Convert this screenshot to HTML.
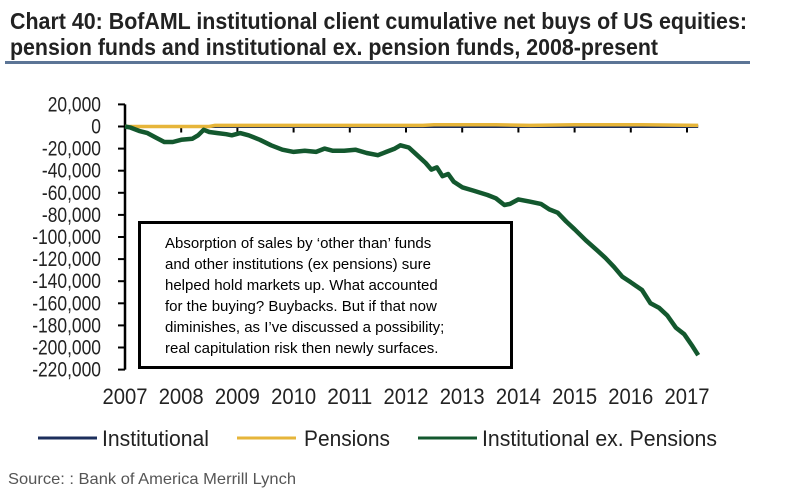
<!DOCTYPE html>
<html><head><meta charset="utf-8"><style>
body{margin:0;background:#fff;width:800px;height:499px;overflow:hidden}
svg{display:block}
.n{font-family:"Liberation Sans Narrow","Liberation Sans",sans-serif}
</style></head><body>
<svg id="c" width="800" height="499">
<text class="n" x="10" y="29" font-size="23" font-weight="bold" fill="#222" textLength="737" lengthAdjust="spacingAndGlyphs">Chart 40: BofAML institutional client cumulative net buys of US equities:</text>
<text class="n" x="10" y="55" font-size="23" font-weight="bold" fill="#222" textLength="648" lengthAdjust="spacingAndGlyphs">pension funds and institutional  ex. pension funds, 2008-present</text>
<rect x="5" y="61" width="745" height="3" fill="#5c7596"/>
<g id="yaxis"></g>
<g id="xaxis"></g>
<g id="series"></g>
<rect x="139.5" y="222.5" width="372" height="145" fill="#fff" stroke="#000" stroke-width="3"/>
<g font-family="Liberation Sans, sans-serif" font-size="15" fill="#000">
<text x="165" y="248">Absorption of sales by ‘other than’ funds</text>
<text x="165" y="269">and other institutions (ex pensions) sure</text>
<text x="165" y="290">helped hold markets up. What accounted</text>
<text x="165" y="311">for the buying? Buybacks. But if that now</text>
<text x="165" y="332">diminishes, as I’ve discussed a possibility;</text>
<text x="165" y="353">real capitulation risk then newly surfaces.</text>
</g>
<g class="n" font-size="22" fill="#222">
<line x1="38" y1="438" x2="97" y2="438" stroke="#1d2f5c" stroke-width="3"/>
<text x="102" y="446" textLength="107" lengthAdjust="spacingAndGlyphs">Institutional</text>
<line x1="237" y1="438" x2="296" y2="438" stroke="#e6b53a" stroke-width="3"/>
<text x="304" y="446" textLength="86" lengthAdjust="spacingAndGlyphs">Pensions</text>
<line x1="418" y1="438" x2="477" y2="438" stroke="#13582e" stroke-width="3"/>
<text x="482" y="446" textLength="235" lengthAdjust="spacingAndGlyphs">Institutional ex. Pensions</text>
</g>
<text class="n" x="8" y="484" font-size="16" fill="#555" textLength="288" lengthAdjust="spacingAndGlyphs">Source: : Bank of America Merrill Lynch</text>
</svg>
<script>
const yTicks=[20000,0,-20000,-40000,-60000,-80000,-100000,-120000,-140000,-160000,-180000,-200000,-220000];
const xYears=[2007,2008,2009,2010,2011,2012,2013,2014,2015,2016,2017];
const exDates=[2007.0,2007.1,2007.25,2007.4,2007.55,2007.7,2007.85,2008.0,2008.2,2008.3,2008.4,2008.5,2008.65,2008.8,2008.9,2009.05,2009.2,2009.4,2009.6,2009.8,2010.0,2010.2,2010.4,2010.55,2010.7,2010.9,2011.1,2011.3,2011.5,2011.65,2011.8,2011.9,2012.05,2012.2,2012.35,2012.45,2012.55,2012.65,2012.75,2012.85,2013.0,2013.2,2013.45,2013.6,2013.75,2013.85,2014.0,2014.2,2014.4,2014.55,2014.7,2014.85,2015.0,2015.2,2015.4,2015.55,2015.7,2015.85,2016.0,2016.2,2016.35,2016.5,2016.65,2016.8,2016.95,2017.1,2017.2];
const exValues=[0,-1000,-4000,-6000,-10000,-14000,-14000,-12000,-11000,-8000,-3000,-5000,-6000,-7000,-8000,-6000,-8000,-12000,-17000,-21000,-23000,-22000,-23000,-20000,-22000,-22000,-21000,-24000,-26000,-23000,-20000,-17000,-19000,-26000,-33000,-39000,-37000,-45000,-43000,-50000,-55000,-58000,-62000,-65000,-71000,-70000,-66000,-68000,-70000,-75000,-78000,-86000,-93000,-103000,-112000,-119000,-127000,-136000,-141000,-148000,-160000,-164000,-171000,-182000,-188000,-199000,-207000];
const pensionDates=[2007.0,2008.5,2008.6,2012.3,2012.5,2013.6,2014.2,2015.0,2016.2,2017.2];
const pensionValues=[0,0,1000,1000,1500,1500,1000,1500,1500,1000];
const instDates=[2007.0,2017.2];
const instValues=[0,0];
const NS='http://www.w3.org/2000/svg';
const X=v=>125+(v-2007)*56.2;
const Y=v=>126.5-v/20000*22.1;
function mk(tag,attrs,parent){const e=document.createElementNS(NS,tag);for(const k in attrs)e.setAttribute(k,attrs[k]);parent.appendChild(e);return e;}
const ya=document.getElementById('yaxis'),xa=document.getElementById('xaxis'),se=document.getElementById('series');
mk('line',{x1:125,y1:Y(20000),x2:125,y2:Y(-220000),stroke:'#000','stroke-width':2.5},ya);
yTicks.forEach(t=>{
  const l=mk('line',{x1:118,y1:Y(t),x2:125,y2:Y(t),stroke:'#000','stroke-width':2},ya);
  
  
  const tx=mk('text',{x:101,y:Y(t)+7,'text-anchor':'end','font-size':21,fill:'#222',class:'n'},ya);
  tx.textContent=t.toLocaleString('en-US');
  
  
  const w=tx.getComputedTextLength();
  tx.setAttribute('textLength',(w*0.83).toFixed(1));
  tx.setAttribute('lengthAdjust','spacingAndGlyphs');
});
xYears.forEach(yr=>{
  if(yr>2007){const l=mk('line',{x1:X(yr),y1:Y(0),x2:X(yr),y2:Y(0)+6,stroke:'#000','stroke-width':2},xa);
  
  }
  const tx=mk('text',{x:X(yr),y:404,'text-anchor':'middle','font-size':22,fill:'#222',class:'n',textLength:45,lengthAdjust:'spacingAndGlyphs'},xa);
  tx.textContent=yr;
  
  
});
function path(d,v){return d.map((x,i)=>(i?'L':'M')+X(x).toFixed(1)+' '+Y(v[i]).toFixed(1)).join(' ');}
const p1=mk('path',{d:path(instDates,instValues),fill:'none',stroke:'#1d2f5c','stroke-width':3},se);


const p2=mk('path',{d:path(pensionDates,pensionValues),fill:'none',stroke:'#e6b53a','stroke-width':3.5},se);


const p3=mk('path',{d:path(exDates,exValues),fill:'none',stroke:'#13582e','stroke-width':4.5,'stroke-linejoin':'round'},se);


</script>
</body></html>
